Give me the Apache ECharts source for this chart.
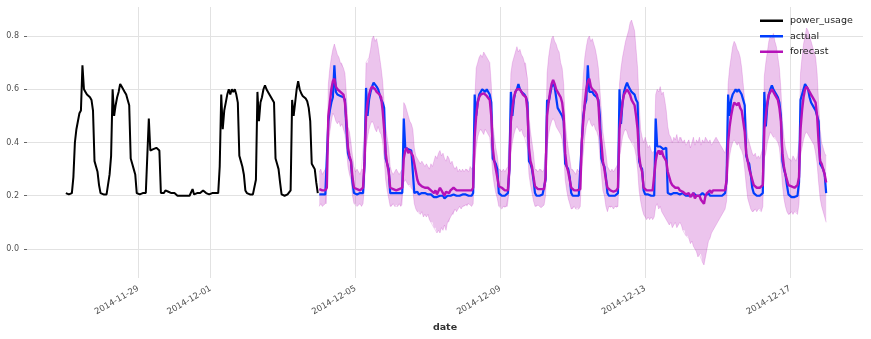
<!DOCTYPE html>
<html>
<head>
<meta charset="utf-8">
<script src="https://cdn.jsdelivr.net/npm/echarts@6/dist/echarts.min.js"></script>
<style>
  html, body { margin: 0; padding: 0; background: #ffffff; }
  #chart { width: 871px; height: 339px; }
</style>
</head>
<body>
<div id="chart"></div>
<script>
// Hourly samples; training series starts 2014-11-27 00:00, forecast window starts 2014-12-04 00:00.
const HOUR = 3600 * 1000;
const trainStart = new Date(2014, 10, 27).getTime();
const forecastStart = new Date(2014, 11, 4).getTime();

const xTickDates = ['2014-11-29', '2014-12-01', '2014-12-05', '2014-12-09', '2014-12-13', '2014-12-17'];
const yTickValues = [0.0, 0.2, 0.4, 0.6, 0.8];

// power_usage, 2014-11-27 .. 2014-12-03 (one row per day)
const powerUsage = [
  0.21,0.21,0.205,0.20,0.21,0.27,0.40,0.45,0.48,0.51,0.52,0.69,0.60,0.59,0.58,0.58,0.57,0.56,0.52,0.33,0.31,0.29,0.24,0.21,
  0.21,0.205,0.21,0.205,0.21,0.28,0.35,0.60,0.50,0.54,0.57,0.59,0.62,0.61,0.60,0.59,0.58,0.56,0.54,0.34,0.32,0.30,0.28,0.21,
  0.21,0.205,0.21,0.21,0.205,0.21,0.21,0.49,0.37,0.37,0.375,0.37,0.38,0.375,0.37,0.21,0.215,0.21,0.22,0.22,0.215,0.22,0.21,0.215,
  0.21,0.205,0.20,0.20,0.20,0.195,0.20,0.195,0.20,0.20,0.20,0.205,0.225,0.205,0.21,0.21,0.215,0.21,0.215,0.22,0.215,0.21,0.21,0.205,
  0.205,0.21,0.205,0.21,0.205,0.21,0.31,0.58,0.45,0.52,0.55,0.58,0.60,0.58,0.60,0.59,0.60,0.58,0.55,0.35,0.33,0.31,0.28,0.22,
  0.21,0.21,0.205,0.21,0.205,0.21,0.26,0.59,0.48,0.55,0.57,0.60,0.615,0.60,0.59,0.585,0.57,0.565,0.55,0.34,0.32,0.30,0.25,0.205,
  0.205,0.20,0.20,0.205,0.20,0.22,0.56,0.50,0.55,0.60,0.63,0.60,0.585,0.575,0.57,0.565,0.555,0.53,0.48,0.32,0.31,0.30,0.25,0.21
];

// actual, 2014-12-04 00:00 .. 2014-12-18 00:00
const actual = [
  0.205,0.20,0.205,0.20,0.205,0.21,0.48,0.52,0.55,0.57,0.69,0.59,0.58,0.58,0.575,0.57,0.57,0.56,0.45,0.36,0.34,0.33,0.25,0.21,
  0.21,0.205,0.205,0.21,0.205,0.21,0.32,0.605,0.50,0.56,0.59,0.61,0.625,0.62,0.61,0.60,0.58,0.56,0.55,0.53,0.34,0.32,0.30,0.21,
  0.205,0.21,0.205,0.21,0.205,0.21,0.205,0.21,0.49,0.38,0.38,0.375,0.38,0.37,0.375,0.21,0.21,0.215,0.205,0.21,0.21,0.205,0.21,0.21,
  0.205,0.20,0.205,0.20,0.195,0.20,0.195,0.19,0.20,0.195,0.20,0.19,0.195,0.20,0.205,0.20,0.20,0.205,0.20,0.20,0.205,0.20,0.20,0.205,
  0.20,0.205,0.20,0.20,0.205,0.20,0.21,0.58,0.50,0.55,0.58,0.59,0.60,0.60,0.59,0.60,0.59,0.58,0.55,0.34,0.33,0.32,0.30,0.21,
  0.205,0.20,0.205,0.20,0.205,0.21,0.30,0.59,0.50,0.56,0.59,0.60,0.62,0.60,0.59,0.585,0.58,0.57,0.55,0.33,0.32,0.30,0.26,0.21,
  0.20,0.205,0.20,0.20,0.205,0.20,0.26,0.56,0.55,0.58,0.61,0.62,0.61,0.57,0.53,0.53,0.51,0.50,0.48,0.32,0.31,0.30,0.27,0.21,
  0.20,0.195,0.20,0.195,0.20,0.20,0.40,0.50,0.54,0.56,0.69,0.59,0.59,0.59,0.58,0.58,0.57,0.56,0.50,0.34,0.32,0.31,0.27,0.21,
  0.20,0.205,0.20,0.20,0.20,0.205,0.21,0.60,0.47,0.55,0.59,0.61,0.625,0.61,0.60,0.59,0.59,0.58,0.56,0.55,0.33,0.31,0.30,0.22,
  0.205,0.20,0.205,0.20,0.20,0.205,0.20,0.49,0.385,0.38,0.385,0.38,0.375,0.38,0.38,0.21,0.21,0.205,0.21,0.21,0.205,0.21,0.205,0.205,
  0.205,0.21,0.205,0.20,0.205,0.20,0.205,0.20,0.21,0.205,0.20,0.205,0.20,0.205,0.21,0.205,0.20,0.205,0.21,0.20,0.205,0.20,0.205,0.20,
  0.205,0.20,0.205,0.20,0.205,0.21,0.26,0.58,0.50,0.56,0.58,0.59,0.60,0.59,0.60,0.60,0.58,0.56,0.54,0.35,0.33,0.32,0.28,0.23,
  0.21,0.205,0.20,0.205,0.20,0.205,0.21,0.59,0.46,0.54,0.58,0.60,0.615,0.60,0.59,0.58,0.57,0.55,0.50,0.33,0.30,0.28,0.24,0.205,
  0.20,0.195,0.20,0.195,0.20,0.20,0.25,0.56,0.58,0.60,0.62,0.625,0.60,0.57,0.55,0.55,0.53,0.52,0.50,0.48,0.32,0.31,0.30,0.28,
  0.21
];

// forecast median, same timestamps as actual
const forecast = [
  0.225,0.22,0.22,0.215,0.22,0.23,0.50,0.55,0.60,0.63,0.64,0.61,0.60,0.60,0.59,0.59,0.58,0.55,0.48,0.38,0.35,0.33,0.27,0.23,
  0.23,0.225,0.22,0.22,0.225,0.23,0.33,0.50,0.55,0.58,0.60,0.61,0.61,0.60,0.59,0.59,0.58,0.57,0.52,0.45,0.36,0.32,0.29,0.23,
  0.23,0.225,0.22,0.22,0.22,0.225,0.22,0.23,0.34,0.37,0.38,0.36,0.37,0.36,0.35,0.32,0.29,0.26,0.245,0.24,0.235,0.24,0.23,0.235,
  0.23,0.225,0.22,0.215,0.21,0.22,0.205,0.21,0.23,0.22,0.21,0.20,0.215,0.22,0.21,0.22,0.225,0.23,0.225,0.22,0.215,0.22,0.215,0.22,
  0.22,0.22,0.215,0.22,0.225,0.22,0.23,0.42,0.50,0.55,0.57,0.58,0.58,0.585,0.58,0.575,0.58,0.56,0.50,0.38,0.33,0.30,0.27,0.235,
  0.235,0.23,0.225,0.22,0.225,0.22,0.30,0.48,0.53,0.57,0.59,0.60,0.60,0.60,0.59,0.58,0.58,0.57,0.52,0.38,0.33,0.31,0.27,0.235,
  0.23,0.225,0.22,0.225,0.22,0.225,0.27,0.50,0.55,0.59,0.62,0.635,0.62,0.60,0.59,0.58,0.57,0.55,0.50,0.36,0.31,0.29,0.26,0.23,
  0.23,0.22,0.225,0.22,0.22,0.225,0.40,0.48,0.55,0.60,0.63,0.64,0.61,0.60,0.60,0.59,0.58,0.55,0.45,0.40,0.33,0.30,0.26,0.23,
  0.225,0.22,0.22,0.215,0.22,0.22,0.23,0.45,0.50,0.55,0.58,0.59,0.60,0.59,0.58,0.56,0.55,0.54,0.50,0.45,0.35,0.31,0.29,0.23,
  0.225,0.22,0.22,0.22,0.225,0.22,0.22,0.33,0.36,0.37,0.355,0.37,0.35,0.34,0.33,0.29,0.27,0.25,0.24,0.235,0.23,0.225,0.23,0.22,
  0.22,0.215,0.21,0.205,0.20,0.21,0.195,0.20,0.21,0.19,0.20,0.195,0.20,0.185,0.19,0.17,0.20,0.21,0.215,0.22,0.21,0.22,0.215,0.22,
  0.22,0.22,0.215,0.22,0.225,0.22,0.26,0.40,0.46,0.50,0.53,0.55,0.55,0.54,0.55,0.53,0.52,0.48,0.44,0.36,0.33,0.30,0.28,0.26,
  0.24,0.235,0.23,0.235,0.23,0.235,0.24,0.45,0.50,0.55,0.58,0.59,0.60,0.59,0.58,0.58,0.56,0.53,0.48,0.36,0.31,0.28,0.26,0.24,
  0.24,0.235,0.24,0.23,0.235,0.24,0.27,0.45,0.52,0.57,0.60,0.61,0.60,0.59,0.58,0.58,0.56,0.55,0.50,0.40,0.33,0.32,0.30,0.28,
  0.25
];

// forecast interval, upper edge
const forecastHigh = [
  0.29,0.30,0.28,0.29,0.30,0.31,0.62,0.68,0.72,0.75,0.77,0.75,0.73,0.72,0.70,0.70,0.68,0.66,0.58,0.46,0.44,0.40,0.35,0.31,
  0.29,0.30,0.29,0.28,0.30,0.30,0.45,0.70,0.70,0.72,0.75,0.79,0.80,0.78,0.79,0.76,0.72,0.68,0.63,0.55,0.46,0.42,0.38,0.31,
  0.29,0.28,0.29,0.30,0.29,0.28,0.29,0.30,0.55,0.54,0.52,0.50,0.48,0.47,0.45,0.38,0.35,0.34,0.33,0.32,0.33,0.32,0.31,0.32,
  0.31,0.30,0.32,0.31,0.33,0.35,0.34,0.36,0.37,0.35,0.36,0.34,0.33,0.35,0.34,0.32,0.33,0.31,0.30,0.31,0.29,0.30,0.29,0.30,
  0.29,0.30,0.30,0.29,0.31,0.30,0.31,0.55,0.68,0.70,0.72,0.73,0.72,0.74,0.73,0.72,0.71,0.70,0.62,0.48,0.42,0.38,0.35,0.30,
  0.30,0.29,0.30,0.29,0.30,0.31,0.45,0.66,0.70,0.72,0.74,0.76,0.74,0.75,0.73,0.72,0.70,0.70,0.64,0.50,0.44,0.40,0.36,0.30,
  0.30,0.29,0.30,0.30,0.29,0.30,0.40,0.66,0.72,0.76,0.79,0.80,0.78,0.77,0.75,0.74,0.70,0.68,0.62,0.48,0.42,0.38,0.34,0.30,
  0.30,0.29,0.28,0.30,0.29,0.31,0.55,0.65,0.72,0.76,0.79,0.80,0.78,0.79,0.77,0.75,0.72,0.68,0.60,0.52,0.44,0.40,0.36,0.31,
  0.30,0.29,0.30,0.29,0.30,0.31,0.32,0.62,0.68,0.72,0.75,0.78,0.80,0.82,0.85,0.86,0.84,0.82,0.75,0.68,0.55,0.45,0.42,0.40,
  0.42,0.40,0.38,0.39,0.37,0.36,0.37,0.58,0.60,0.59,0.61,0.58,0.59,0.56,0.52,0.46,0.43,0.42,0.40,0.42,0.41,0.43,0.40,0.42,
  0.42,0.40,0.41,0.39,0.40,0.41,0.38,0.40,0.42,0.39,0.41,0.40,0.42,0.39,0.41,0.40,0.42,0.41,0.40,0.41,0.39,0.40,0.41,0.42,
  0.41,0.40,0.39,0.38,0.37,0.36,0.40,0.62,0.68,0.72,0.76,0.78,0.77,0.75,0.74,0.72,0.68,0.62,0.56,0.48,0.42,0.40,0.38,0.36,
  0.35,0.36,0.34,0.35,0.34,0.36,0.38,0.65,0.70,0.74,0.78,0.80,0.79,0.81,0.78,0.76,0.72,0.68,0.60,0.48,0.42,0.38,0.36,0.34,
  0.34,0.33,0.35,0.34,0.33,0.35,0.40,0.66,0.72,0.77,0.80,0.83,0.82,0.80,0.78,0.76,0.74,0.72,0.66,0.55,0.45,0.40,0.38,0.36,
  0.35
];

// forecast interval, lower edge
const forecastLow = [
  0.16,0.17,0.16,0.165,0.17,0.17,0.40,0.44,0.48,0.51,0.50,0.48,0.47,0.48,0.46,0.47,0.45,0.43,0.38,0.31,0.28,0.26,0.20,0.17,
  0.17,0.16,0.165,0.17,0.16,0.17,0.24,0.38,0.42,0.45,0.47,0.48,0.47,0.45,0.44,0.46,0.44,0.43,0.40,0.34,0.26,0.22,0.19,0.16,
  0.16,0.17,0.16,0.165,0.16,0.17,0.16,0.165,0.25,0.26,0.25,0.24,0.24,0.23,0.22,0.17,0.15,0.14,0.14,0.13,0.14,0.12,0.13,0.12,
  0.13,0.11,0.10,0.10,0.08,0.08,0.06,0.07,0.06,0.08,0.07,0.09,0.07,0.10,0.10,0.12,0.13,0.13,0.15,0.14,0.15,0.16,0.15,0.16,
  0.16,0.165,0.16,0.17,0.165,0.16,0.17,0.32,0.38,0.42,0.44,0.45,0.44,0.43,0.45,0.44,0.43,0.42,0.36,0.28,0.24,0.21,0.19,0.16,
  0.16,0.15,0.16,0.155,0.16,0.16,0.22,0.36,0.40,0.43,0.45,0.46,0.45,0.44,0.45,0.43,0.42,0.42,0.38,0.28,0.24,0.21,0.18,0.16,
  0.16,0.165,0.16,0.155,0.16,0.165,0.20,0.38,0.43,0.46,0.48,0.49,0.48,0.46,0.45,0.44,0.43,0.41,0.36,0.26,0.22,0.19,0.17,0.15,
  0.15,0.16,0.15,0.155,0.15,0.16,0.30,0.36,0.42,0.46,0.48,0.49,0.47,0.46,0.47,0.45,0.44,0.42,0.35,0.28,0.22,0.20,0.16,0.14,
  0.16,0.155,0.16,0.15,0.16,0.155,0.16,0.34,0.38,0.42,0.44,0.45,0.44,0.42,0.41,0.40,0.40,0.38,0.35,0.30,0.22,0.18,0.15,0.13,
  0.12,0.11,0.12,0.11,0.12,0.11,0.12,0.16,0.17,0.15,0.16,0.14,0.13,0.12,0.11,0.10,0.09,0.10,0.08,0.09,0.10,0.08,0.09,0.10,
  0.09,0.07,0.07,0.05,0.05,0.04,0.02,0.03,0.01,0.00,-0.01,-0.03,-0.02,-0.02,-0.05,-0.06,-0.03,0.00,0.03,0.04,0.06,0.07,0.08,0.09,
  0.10,0.11,0.12,0.13,0.14,0.15,0.18,0.30,0.35,0.38,0.40,0.41,0.40,0.39,0.40,0.38,0.37,0.35,0.30,0.24,0.19,0.17,0.15,0.14,
  0.14,0.15,0.14,0.15,0.15,0.14,0.16,0.34,0.36,0.40,0.42,0.44,0.43,0.42,0.42,0.41,0.40,0.38,0.32,0.24,0.19,0.16,0.14,0.13,
  0.13,0.14,0.13,0.14,0.14,0.13,0.17,0.35,0.38,0.41,0.43,0.44,0.43,0.42,0.41,0.40,0.39,0.36,0.32,0.25,0.19,0.16,0.14,0.12,
  0.10
];

const COLORS = { train: '#000000', actual: '#003DFD', forecast: '#b512b8' };
const FONT = 'DejaVu Sans';

function dayStamp(s) {
  const p = s.split('-').map(Number);
  return new Date(p[0], p[1] - 1, p[2]).getTime();
}
function hourly(start, values) {
  return values.map((v, i) => [start + i * HOUR, v]);
}
function pad(n) { return (n < 10 ? '0' : '') + n; }
function fmtDate(t) {
  const d = new Date(t);
  return d.getFullYear() + '-' + pad(d.getMonth() + 1) + '-' + pad(d.getDate());
}

const xTickStamps = xTickDates.map(dayStamp);
// rows of [time, low, high] for the interval band
const bandRows = forecastLow.map((lo, i) => [forecastStart + i * HOUR, lo, forecastHigh[i]]);

// The whole band is one filled polygon: upper edge left-to-right, lower edge back.
function renderBand(params, api) {
  if (params.dataIndex !== 0) return null;
  const pts = [];
  for (let i = 0; i < bandRows.length; i++) pts.push(api.coord([bandRows[i][0], bandRows[i][2]]));
  for (let i = bandRows.length - 1; i >= 0; i--) pts.push(api.coord([bandRows[i][0], bandRows[i][1]]));
  return {
    type: 'polygon',
    shape: { points: pts },
    style: { fill: 'rgba(181,18,184,0.25)', stroke: null }
  };
}

const chart = echarts.init(document.getElementById('chart'), null, { renderer: 'canvas' });

chart.setOption({
  animation: false,
  backgroundColor: '#ffffff',
  grid: { left: 27, right: 8, top: 7, bottom: 61 },
  legend: {
    data: ['power_usage', 'actual', 'forecast'],
    orient: 'vertical',
    left: 760,
    top: 15,
    padding: 0,
    itemGap: 4,
    itemWidth: 23,
    itemHeight: 2.5,
    icon: 'rect',
    textStyle: { fontFamily: FONT, fontSize: 9.5, color: '#222222', lineHeight: 11.5, padding: [0, 0, 0, 2] }
  },
  xAxis: {
    type: 'value',
    min: new Date(2014, 10, 25, 22, 15).getTime(),
    max: new Date(2014, 11, 19, 0, 25).getTime(),
    name: 'date',
    nameLocation: 'middle',
    nameGap: 42,
    nameTextStyle: { fontFamily: FONT, fontSize: 9.5, fontWeight: 'bold', color: '#333333' },
    axisLine: { show: false },
    axisTick: { show: false, customValues: xTickStamps },
    axisLabel: {
      customValues: xTickStamps,
      rotate: 30,
      margin: 10,
      fontFamily: FONT,
      fontSize: 8.5,
      color: '#505050',
      hideOverlap: false,
      formatter: (v) => fmtDate(v)
    },
    splitLine: { show: true, lineStyle: { color: '#e2e2e2', width: 1 } }
  },
  yAxis: {
    type: 'value',
    min: -0.109,
    max: 0.909,
    axisLine: { show: false },
    axisTick: { show: true, length: 3, customValues: yTickValues, lineStyle: { color: '#666666', width: 1 } },
    axisLabel: {
      customValues: yTickValues,
      margin: 8,
      fontFamily: FONT,
      fontSize: 8,
      color: '#505050',
      formatter: (v) => v.toFixed(1)
    },
    splitLine: { show: true, lineStyle: { color: '#e2e2e2', width: 1 } }
  },
  series: [
    {
      name: 'interval',
      type: 'custom',
      renderItem: renderBand,
      data: bandRows,
      encode: { x: 0, y: [1, 2] },
      silent: true,
      clip: true,
      z: 1
    },
    {
      name: 'interval-high',
      type: 'line',
      data: hourly(forecastStart, forecastHigh),
      symbol: 'none',
      silent: true,
      lineStyle: { color: COLORS.forecast, opacity: 0.18, width: 1 },
      z: 1
    },
    {
      name: 'interval-low',
      type: 'line',
      data: hourly(forecastStart, forecastLow),
      symbol: 'none',
      silent: true,
      lineStyle: { color: COLORS.forecast, opacity: 0.18, width: 1 },
      z: 1
    },
    {
      name: 'power_usage',
      type: 'line',
      data: hourly(trainStart, powerUsage),
      symbol: 'none',
      color: COLORS.train,
      lineStyle: { color: COLORS.train, width: 2 },
      z: 3
    },
    {
      name: 'actual',
      type: 'line',
      data: hourly(forecastStart, actual),
      symbol: 'none',
      color: COLORS.actual,
      lineStyle: { color: COLORS.actual, width: 2.2 },
      z: 3
    },
    {
      name: 'forecast',
      type: 'line',
      data: hourly(forecastStart, forecast),
      symbol: 'none',
      color: COLORS.forecast,
      lineStyle: { color: COLORS.forecast, width: 2.4 },
      z: 4
    }
  ]
});
</script>
</body>
</html>
